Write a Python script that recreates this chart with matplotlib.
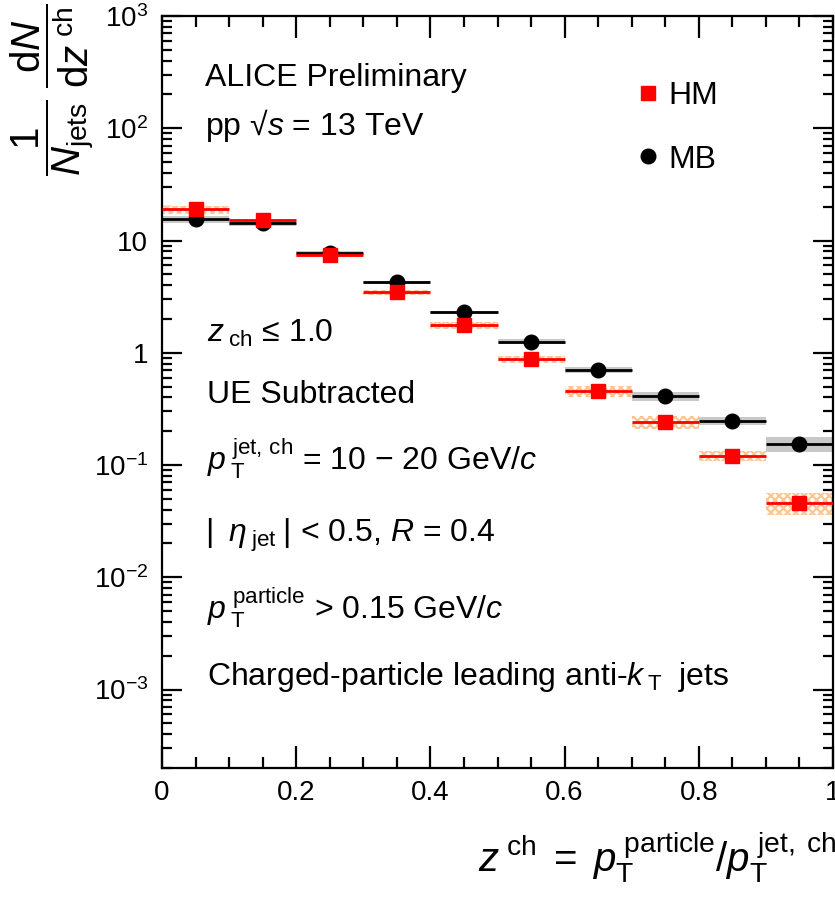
import matplotlib
matplotlib.use("Agg")
import matplotlib.pyplot as plt
from matplotlib.lines import Line2D
from matplotlib.ticker import FixedLocator, FixedFormatter, LogLocator, MultipleLocator, NullFormatter
import numpy as np

# z^ch bins (centres and widths)
z_centers = [0.05, 0.15, 0.25, 0.35, 0.45, 0.55, 0.65, 0.75, 0.85, 0.95]
z_width = 0.1

# High-multiplicity (HM) and minimum-bias (MB) fragmentation functions
hm_values = [18.9, 15.1, 7.36, 3.45, 1.76, 0.875, 0.455, 0.241, 0.120, 0.046]
mb_values = [15.4, 14.2, 7.8, 4.24, 2.29, 1.26, 0.70, 0.41, 0.246, 0.154]

# relative systematic uncertainties
hm_sys_rel = [0.085, 0.035, 0.035, 0.045, 0.075, 0.065, 0.11, 0.14, 0.10, 0.22]
mb_sys_rel = [0.075, 0.05, 0.035, 0.035, 0.035, 0.045, 0.065, 0.085, 0.085, 0.15]

y_tick_values = [1e-3, 1e-2, 1e-1, 1, 10, 1e2, 1e3]
y_tick_labels = [r"$10^{-3}$", r"$10^{-2}$", r"$10^{-1}$", "1", "10", r"$10^{2}$", r"$10^{3}$"]
x_tick_values = [0, 0.2, 0.4, 0.6, 0.8, 1.0]
x_tick_labels = ["0", "0.2", "0.4", "0.6", "0.8", "1"]

plt.rcParams["font.family"] = ["Liberation Sans", "DejaVu Sans"]
plt.rcParams["mathtext.fontset"] = "custom"
plt.rcParams["mathtext.rm"] = "Liberation Sans"
plt.rcParams["mathtext.it"] = "Liberation Sans:italic"
plt.rcParams["mathtext.bf"] = "Liberation Sans:bold"
plt.rcParams["mathtext.sf"] = "Liberation Sans"
plt.rcParams["hatch.linewidth"] = 1.6

W, H = 835, 900
fig = plt.figure(figsize=(W / 100, H / 100), dpi=100)
L, R, T, B = 162, 833, 16, 768
ax = fig.add_axes([L / W, 1 - B / H, (R - L) / W, (B - T) / H])

x = np.array(z_centers)
hm = np.array(hm_values)
mb = np.array(mb_values)
hm_err = hm * np.array(hm_sys_rel)
mb_err = mb * np.array(mb_sys_rel)

# systematic boxes
ax.bar(x, 2 * mb_err, bottom=mb - mb_err, width=z_width, color="#c8c8c8",
       linewidth=0, zorder=1)
ax.bar(x, 2 * hm_err, bottom=hm - hm_err, width=z_width, facecolor="white",
       edgecolor="#ffc48f", hatch="xxxx", linewidth=0, zorder=2)

# statistical (bin-width) bars and markers
ax.errorbar(x, mb, xerr=z_width / 2, fmt="o", color="black", ms=10.5,
            elinewidth=2, capsize=0, zorder=3)
ax.errorbar(x, hm, xerr=z_width / 2, fmt="s", color="red", ms=10,
            elinewidth=2, capsize=0, zorder=4)

ax.set_xlim(0, 1)
ax.set_yscale("log")
ax.set_ylim(2e-4, 1e3)

ax.xaxis.set_major_locator(FixedLocator(x_tick_values))
ax.xaxis.set_major_formatter(FixedFormatter(x_tick_labels))
ax.xaxis.set_minor_locator(MultipleLocator(0.05))
ax.yaxis.set_major_locator(FixedLocator(y_tick_values))
ax.yaxis.set_major_formatter(FixedFormatter(y_tick_labels))
ax.yaxis.set_minor_locator(LogLocator(base=10, subs=np.arange(2, 10)))
ax.yaxis.set_minor_formatter(NullFormatter())

for s in ax.spines.values():
    s.set_linewidth(1.6)
ax.tick_params(axis="both", which="both", direction="in", top=True, right=True,
               width=1.6, labelsize=20)
ax.tick_params(axis="x", which="major", length=16, pad=9)
ax.tick_params(axis="x", which="minor", length=8)
ax.tick_params(axis="y", which="major", length=14.5, pad=10)
ax.tick_params(axis="y", which="minor", length=7.5)

# axis titles
fig.text(836 / W, 1 - 872 / H,
         r"$z^{\;\rm ch}\;=\;p_{\rm T}^{\;\rm particle}/p_{\rm T}^{\;\rm jet,\;ch}$",
         ha="right", va="baseline", fontsize=29)
fig.text(52 / W, 1 - 4 / H,
         r"$\dfrac{1}{N_{\rm jets}}\;\dfrac{{\rm d}N}{{\rm d}z^{\;\rm ch}}$",
         rotation=90, ha="center", va="top", fontsize=29)

# annotations
fs = 23
def put(px, py, s):
    fig.text(px / W, 1 - py / H, s, ha="left", va="baseline", fontsize=fs)

put(205, 86, "ALICE Preliminary")
put(205, 135, "pp √$s$ = 13 TeV")
put(207, 342, r"$z_{\;\rm ch}$ ≤ 1.0")
put(207, 403, "UE Subtracted")
put(207, 470, r"$p_{\;\rm T}^{\;\rm jet,\,ch}$ = 10 − 20 GeV/$c$")
put(205, 542, r"$|\;\;\eta_{\;\rm jet}\;|$ < 0.5, $R$ = 0.4")
put(207, 620, r"$p_{\;\rm T}^{\;\rm particle}$ > 0.15 GeV/$c$")
put(207, 685, r"Charged-particle leading anti-$k_{\;\rm T}\;$ jets")

handles = [Line2D([], [], marker="s", color="red", ls="none", ms=10),
           Line2D([], [], marker="o", color="black", ls="none", ms=10.5)]
ax.legend(handles, ["HM", "MB"], loc="upper left",
          bbox_to_anchor=(632 / W, 1 - 81 / H), bbox_transform=fig.transFigure,
          frameon=False, fontsize=fs, handlelength=1.0, handletextpad=0.15,
          labelspacing=1.05, borderpad=0, borderaxespad=0)

fig.savefig("out.png", dpi=100)
